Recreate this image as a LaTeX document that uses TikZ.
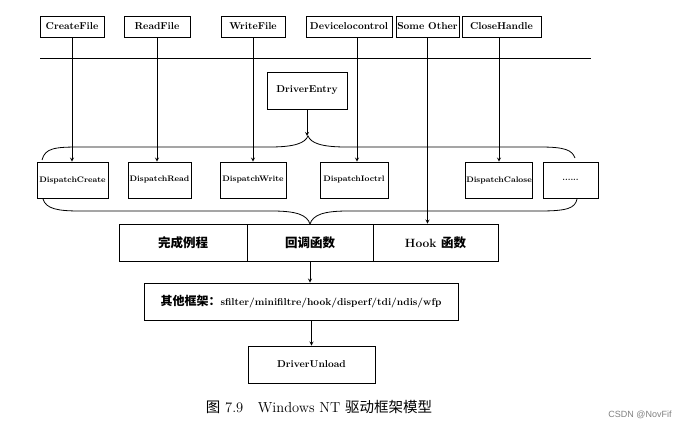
\documentclass[tikz,border=0pt]{standalone}
\usepackage{fontspec}
\newfontfamily\cjk{Noto Sans CJK SC}
\newfontfamily\wmfont{Liberation Sans}

\begin{document}
\begin{tikzpicture}
[
	x=1pt, y=-1pt, >=stealth,
	apibox/.style={draw,line width=0.8pt,inner sep=1pt,minimum height=21,font=\bfseries},
	dispbox/.style={draw,line width=0.7pt,inner sep=1pt,minimum height=36,font=\footnotesize\bfseries},
	funcbox/.style={draw,line width=0.8pt,inner sep=1pt,minimum height=37,font=\bfseries},
	cjkbox/.style={funcbox,font=\bfseries\cjk\fontsize{12.5}{14}\selectfont},
	brace/.style={line width=0.8pt}
]
	\useasboundingbox (0,0) rectangle (693,430);

	% user mode calls
	\node[apibox,minimum width=64] (createfile) at (72,26.5) {CreateFile};
	\node[apibox,minimum width=66] (readfile) at (157,26.5) {ReadFile};
	\node[apibox,minimum width=64] (writefile) at (253,26.5) {WriteFile};
	\node[apibox,minimum width=86] (devctl) at (349,26.5) {Devicelocontrol};
	\node[apibox,minimum width=63] (someother) at (427.5,26.5) {Some Other};
	\node[apibox,minimum width=79] (closehandle) at (501.5,26.5) {CloseHandle};

	% user / kernel border
	\coordinate (border w) at (40,58);
	\coordinate (border e) at (591,58);
	\draw[line width=0.8pt] (border w) -- (border e);

	\node[funcbox,minimum width=80] (driverentry) at (307,90.5) {DriverEntry};

	% dispatch routines
	\node[dispbox,minimum width=71] (dispcreate) at (72.5,180) {DispatchCreate};
	\node[dispbox,minimum width=63] (dispread) at (159.5,180) {DispatchRead};
	\node[dispbox,minimum width=66] (dispwrite) at (253,180) {DispatchWrite};
	\node[dispbox,minimum width=68] (dispioctrl) at (354,180) {DispatchIoctrl};
	\node[dispbox,minimum width=66] (dispclose) at (499,180) {DispatchCalose};
	\node[dispbox,minimum width=55] (dispmore) at (570.5,180) {......};

	% braces
	\draw[brace] (42,160) .. controls (45,148) and (55,147) .. (80,147) -- (270,147)
		.. controls (295,147) and (305,143) .. (308,136)
		.. controls (311,143) and (321,147) .. (346,147) -- (540,147)
		.. controls (565,147) and (572,150) .. (575,158);
	\coordinate (top tip) at (308,136);

	\draw[brace] (43,199) .. controls (46,209) and (58,211) .. (80,211) -- (272,211)
		.. controls (297,211) and (307,215) .. (310,224)
		.. controls (313,215) and (323,211) .. (348,211) -- (540,211)
		.. controls (568,211) and (575,208) .. (577,199);

	% kernel functions
	\node[cjkbox,minimum width=128] (finish) at (183,242.5) {完成例程};
	\node[cjkbox,minimum width=126] (callback) at (310,242.5) {回调函数};
	\node[funcbox,minimum width=125,font=\bfseries\fontsize{12}{14}\selectfont] (hook) at (435.5,242.5)
		{Hook {\cjk\fontsize{12.5}{14}\selectfont 函数}};

	\node[funcbox,minimum width=314] (frames) at (301,301.5)
		{{\cjk\fontsize{12}{14}\selectfont 其他框架：}sfilter/minifiltre/hook/disperf/tdi/ndis/wfp};
	\node[funcbox,minimum width=127] (unload) at (311.5,364.5) {DriverUnload};

	% arrows
	\draw[->,line width=0.8pt] (createfile.south) -- (createfile.south |- dispcreate.north);
	\draw[->,line width=0.8pt] (readfile.south) -- (readfile.south |- dispread.north);
	\draw[->,line width=0.8pt] (writefile.south) -- (writefile.south |- dispwrite.north);
	\draw[->,line width=0.8pt] ([xshift=8pt]devctl.south) -- ([xshift=8pt]devctl.south |- dispioctrl.north);
	\draw[->,line width=0.8pt] (someother.south) -- (someother.south |- hook.north);
	\draw[->,line width=0.8pt] ([xshift=-2.5pt]closehandle.south) -- ([xshift=-2.5pt]closehandle.south |- dispclose.north);
	\draw[->,line width=0.8pt] (driverentry.south) -- (driverentry.south |- top tip);
	\draw[->,line width=0.8pt] (callback.south) -- (callback.south |- frames.north);
	\draw[->,line width=0.8pt] (unload.north |- frames.south) -- (unload.north);

	% caption
	\node[font=\fontsize{14.5}{16}\selectfont] (caption) at (319,407)
		{{\cjk 图} 7.9\quad Windows NT {\cjk 驱动框架模型}};
	\node[font=\wmfont\fontsize{9}{10}\selectfont,text=gray] (mark) at (640,415) {CSDN @NovFif};

\end{tikzpicture}
\end{document}
